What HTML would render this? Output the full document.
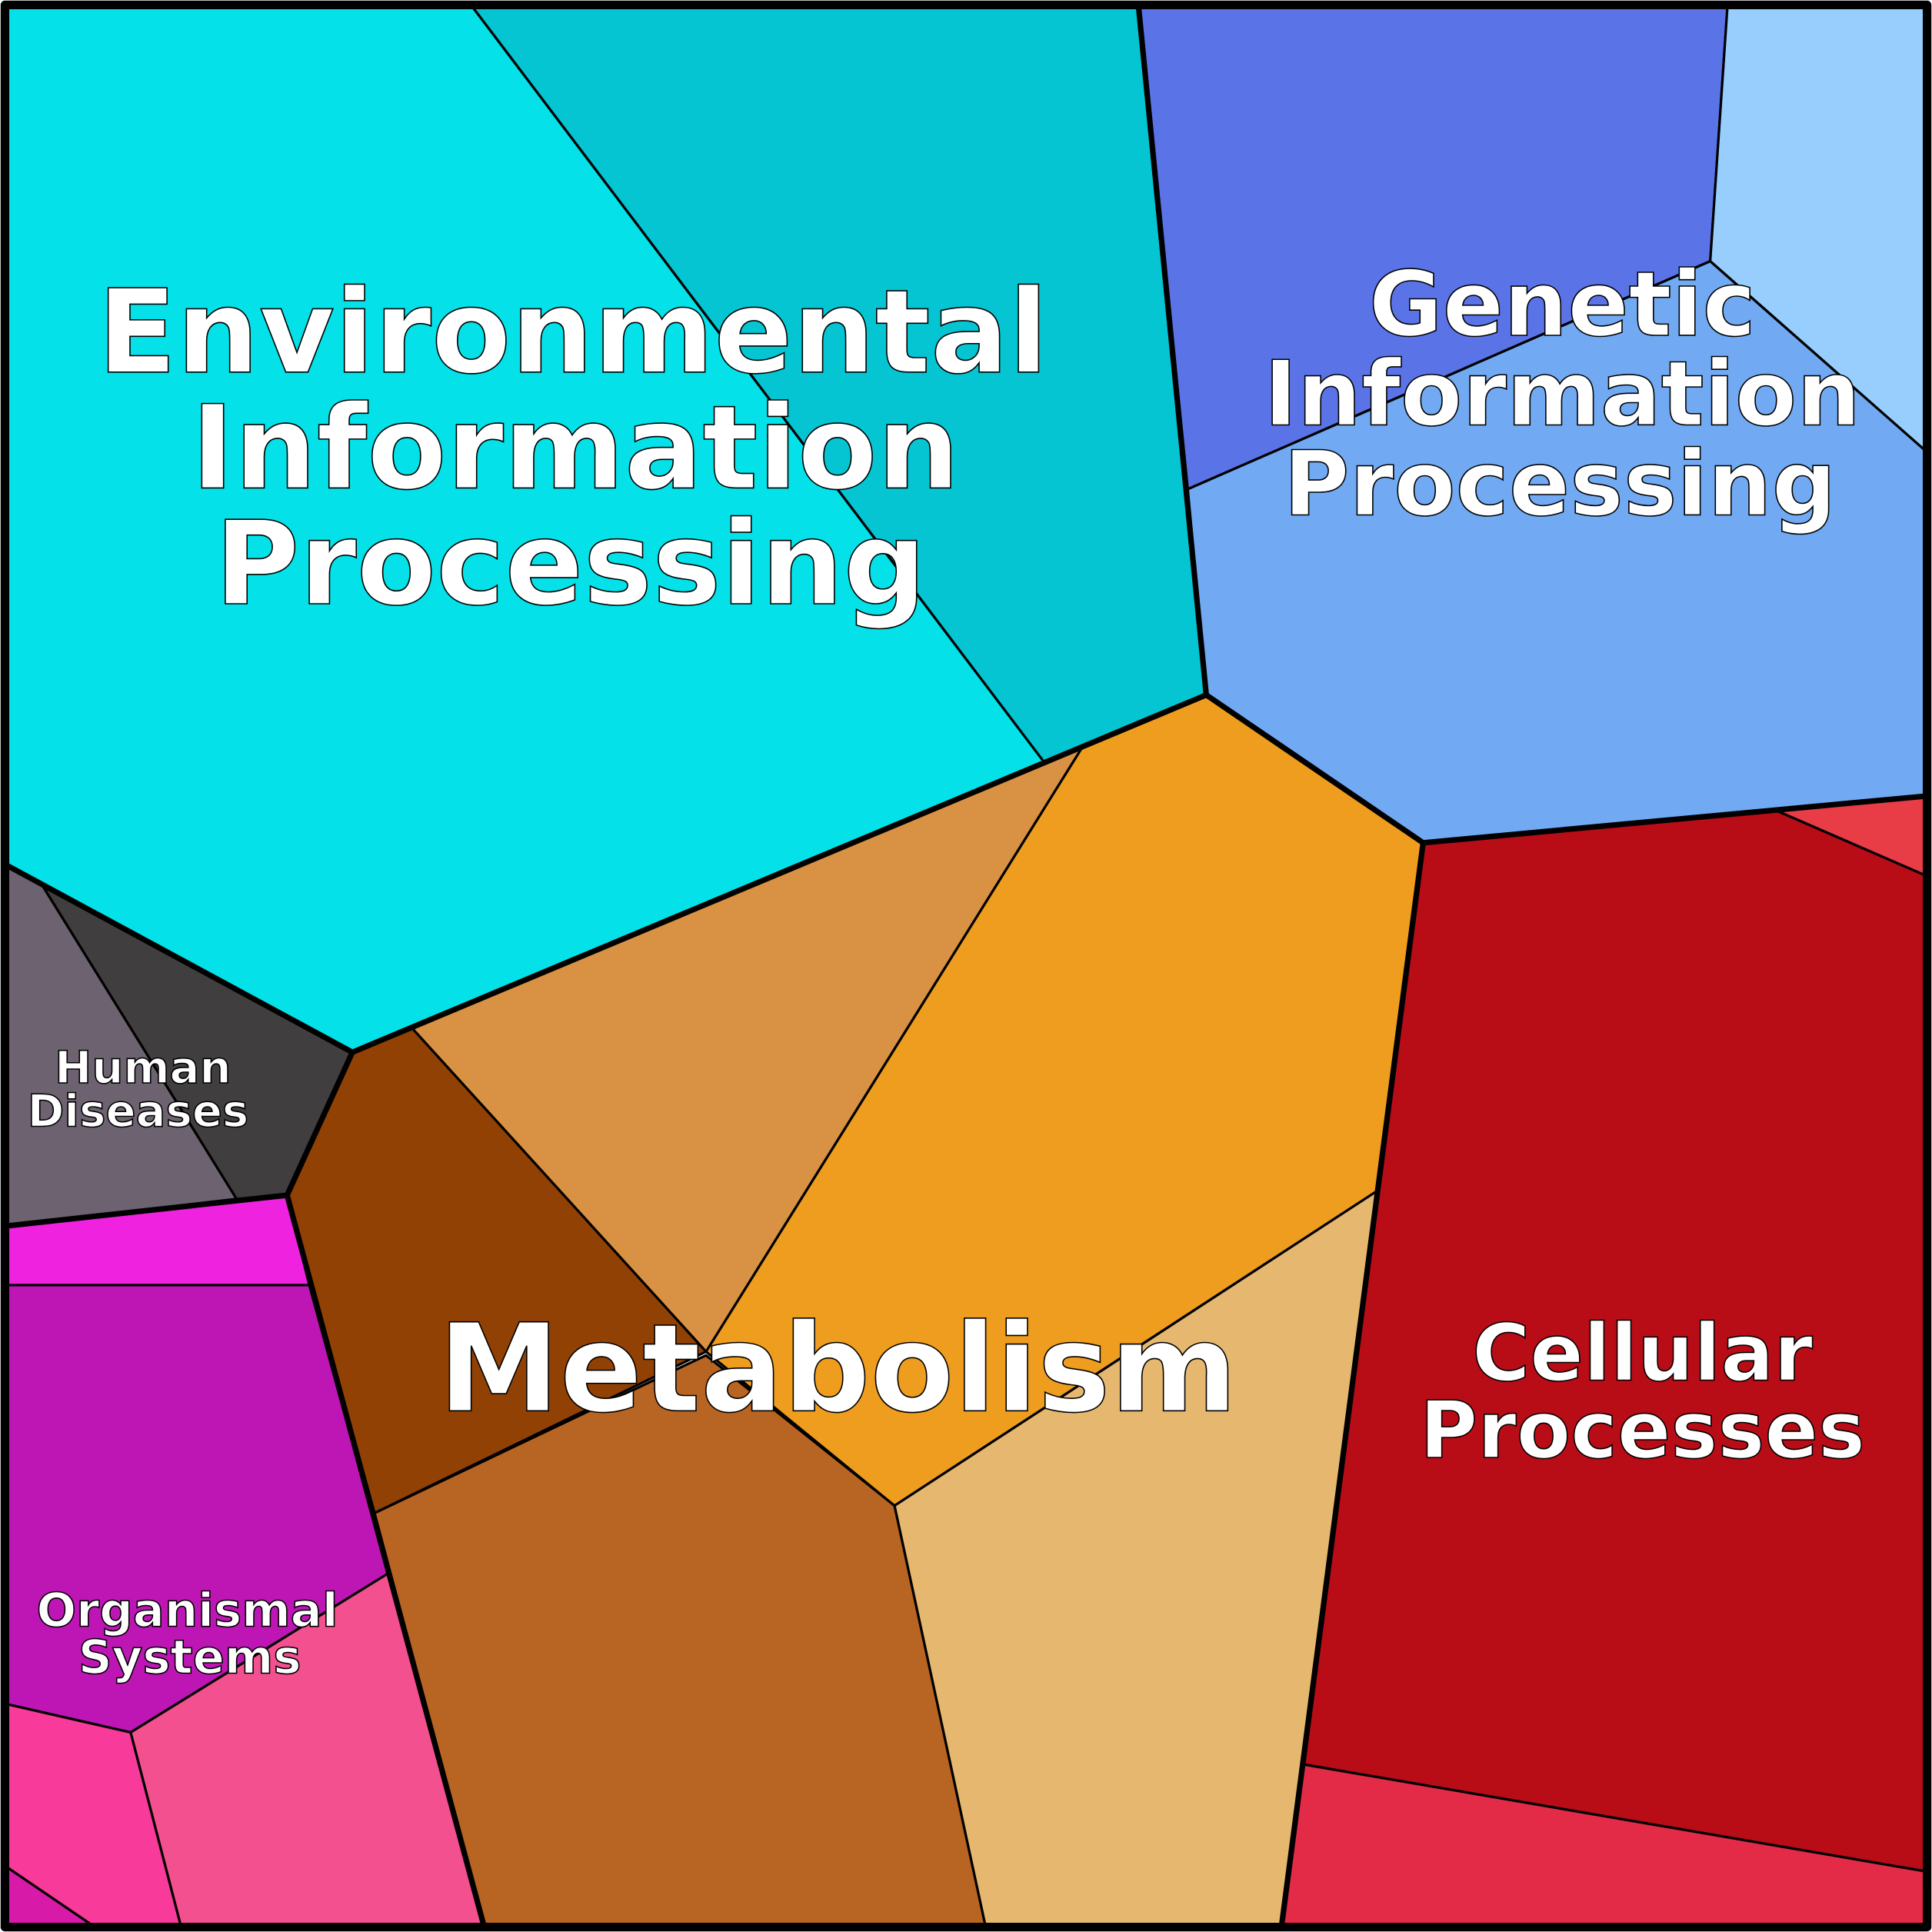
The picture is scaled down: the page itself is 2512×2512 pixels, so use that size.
<!DOCTYPE html>
<html><head><meta charset="utf-8"><style>html,body{margin:0;padding:0;background:#fff}svg{display:block}</style></head><body>
<svg width="2512" height="2512" viewBox="0 0 1568 1568" xmlns="http://www.w3.org/2000/svg">
<g stroke="#000" stroke-width="2" stroke-linejoin="round">
<polygon fill="#05E1E8" points="5,5 383,5 847,618 286,854 5,702"/>
<polygon fill="#05C5D3" points="383,5 924,5 979,564 847,618"/>
<polygon fill="#5A74E8" points="924,5 1402,5 1388,212 964,397"/>
<polygon fill="#97CEFE" points="1402,5 1564,5 1564,367 1388,212"/>
<polygon fill="#71AAF3" points="964,397 1388,212 1564,367 1564,646 1155,684 979,564"/>
<polygon fill="#B80C16" points="1155,684 1442,658 1564,711 1564,1519 1058,1432 1117,967"/>
<polygon fill="#E83C46" points="1442,658 1564,646 1564,711"/>
<polygon fill="#E32B47" points="1058,1432 1564,1519 1564,1564 1040,1564"/>
<polygon fill="#EE9D1E" points="878,607 979,564 1155,684 1117,967 726,1222 573,1097"/>
<polygon fill="#D99243" points="334,834 878,607 573,1097"/>
<polygon fill="#924104" points="286,854 334,834 573,1097 304,1228 233,970"/>
<polygon fill="#B86422" points="304,1228 573,1100 726,1222 800,1564 393,1564"/>
<polygon fill="#E6B86F" points="726,1222 1117,967 1040,1564 800,1564"/>
<polygon fill="#6D6270" points="5,702 34,718 192,973 5,995"/>
<polygon fill="#403E3E" points="34,718 286,854 233,970 192,973"/>
<polygon fill="#EE22DF" points="5,995 233,970 251,1043 5,1043"/>
<polygon fill="#BE16B5" points="5,1043 251,1043 315,1277 106,1406 5,1383"/>
<polygon fill="#F2508F" points="106,1406 315,1277 393,1564 147,1564"/>
<polygon fill="#F83A9A" points="5,1383 106,1406 147,1564 77,1564 5,1515"/>
<polygon fill="#D81AA8" points="5,1515 77,1564 5,1564"/>
</g>
<g fill="none" stroke="#000" stroke-width="4.5" stroke-linejoin="round">
<polyline points="5,702 286,854 979,564 924,5"/>
<polyline points="979,564 1155,684 1564,646"/>
<polyline points="1155,684 1040,1564"/>
<polyline points="286,854 233,970 393,1564"/>
<polyline points="5,995 233,970"/>
<rect x="4" y="4" width="1560" height="1560" stroke-width="7"/>
</g>
<g fill="#fff" stroke="#000" stroke-width="1" font-family="DejaVu Sans, Liberation Sans, sans-serif" font-weight="bold" text-anchor="middle">
<text font-size="94"><tspan x="465" y="302">Environmental</tspan><tspan x="467" y="396">Information</tspan><tspan x="463" y="490">Processing</tspan></text>
<text font-size="73"><tspan x="1268" y="272">Genetic</tspan><tspan x="1268" y="345">Information</tspan><tspan x="1266" y="418">Processing</tspan></text>
<text font-size="99" x="680" y="1145">Metabolism</text>
<text font-size="64"><tspan x="1333" y="1120">Cellular</tspan><tspan x="1333" y="1183">Processes</tspan></text>
<text font-size="36"><tspan x="116" y="879">Human</tspan><tspan x="112" y="914">Diseases</tspan></text>
<text font-size="38"><tspan x="152" y="1320">Organismal</tspan><tspan x="154" y="1358">Systems</tspan></text>
</g>
</svg>
</body></html>
